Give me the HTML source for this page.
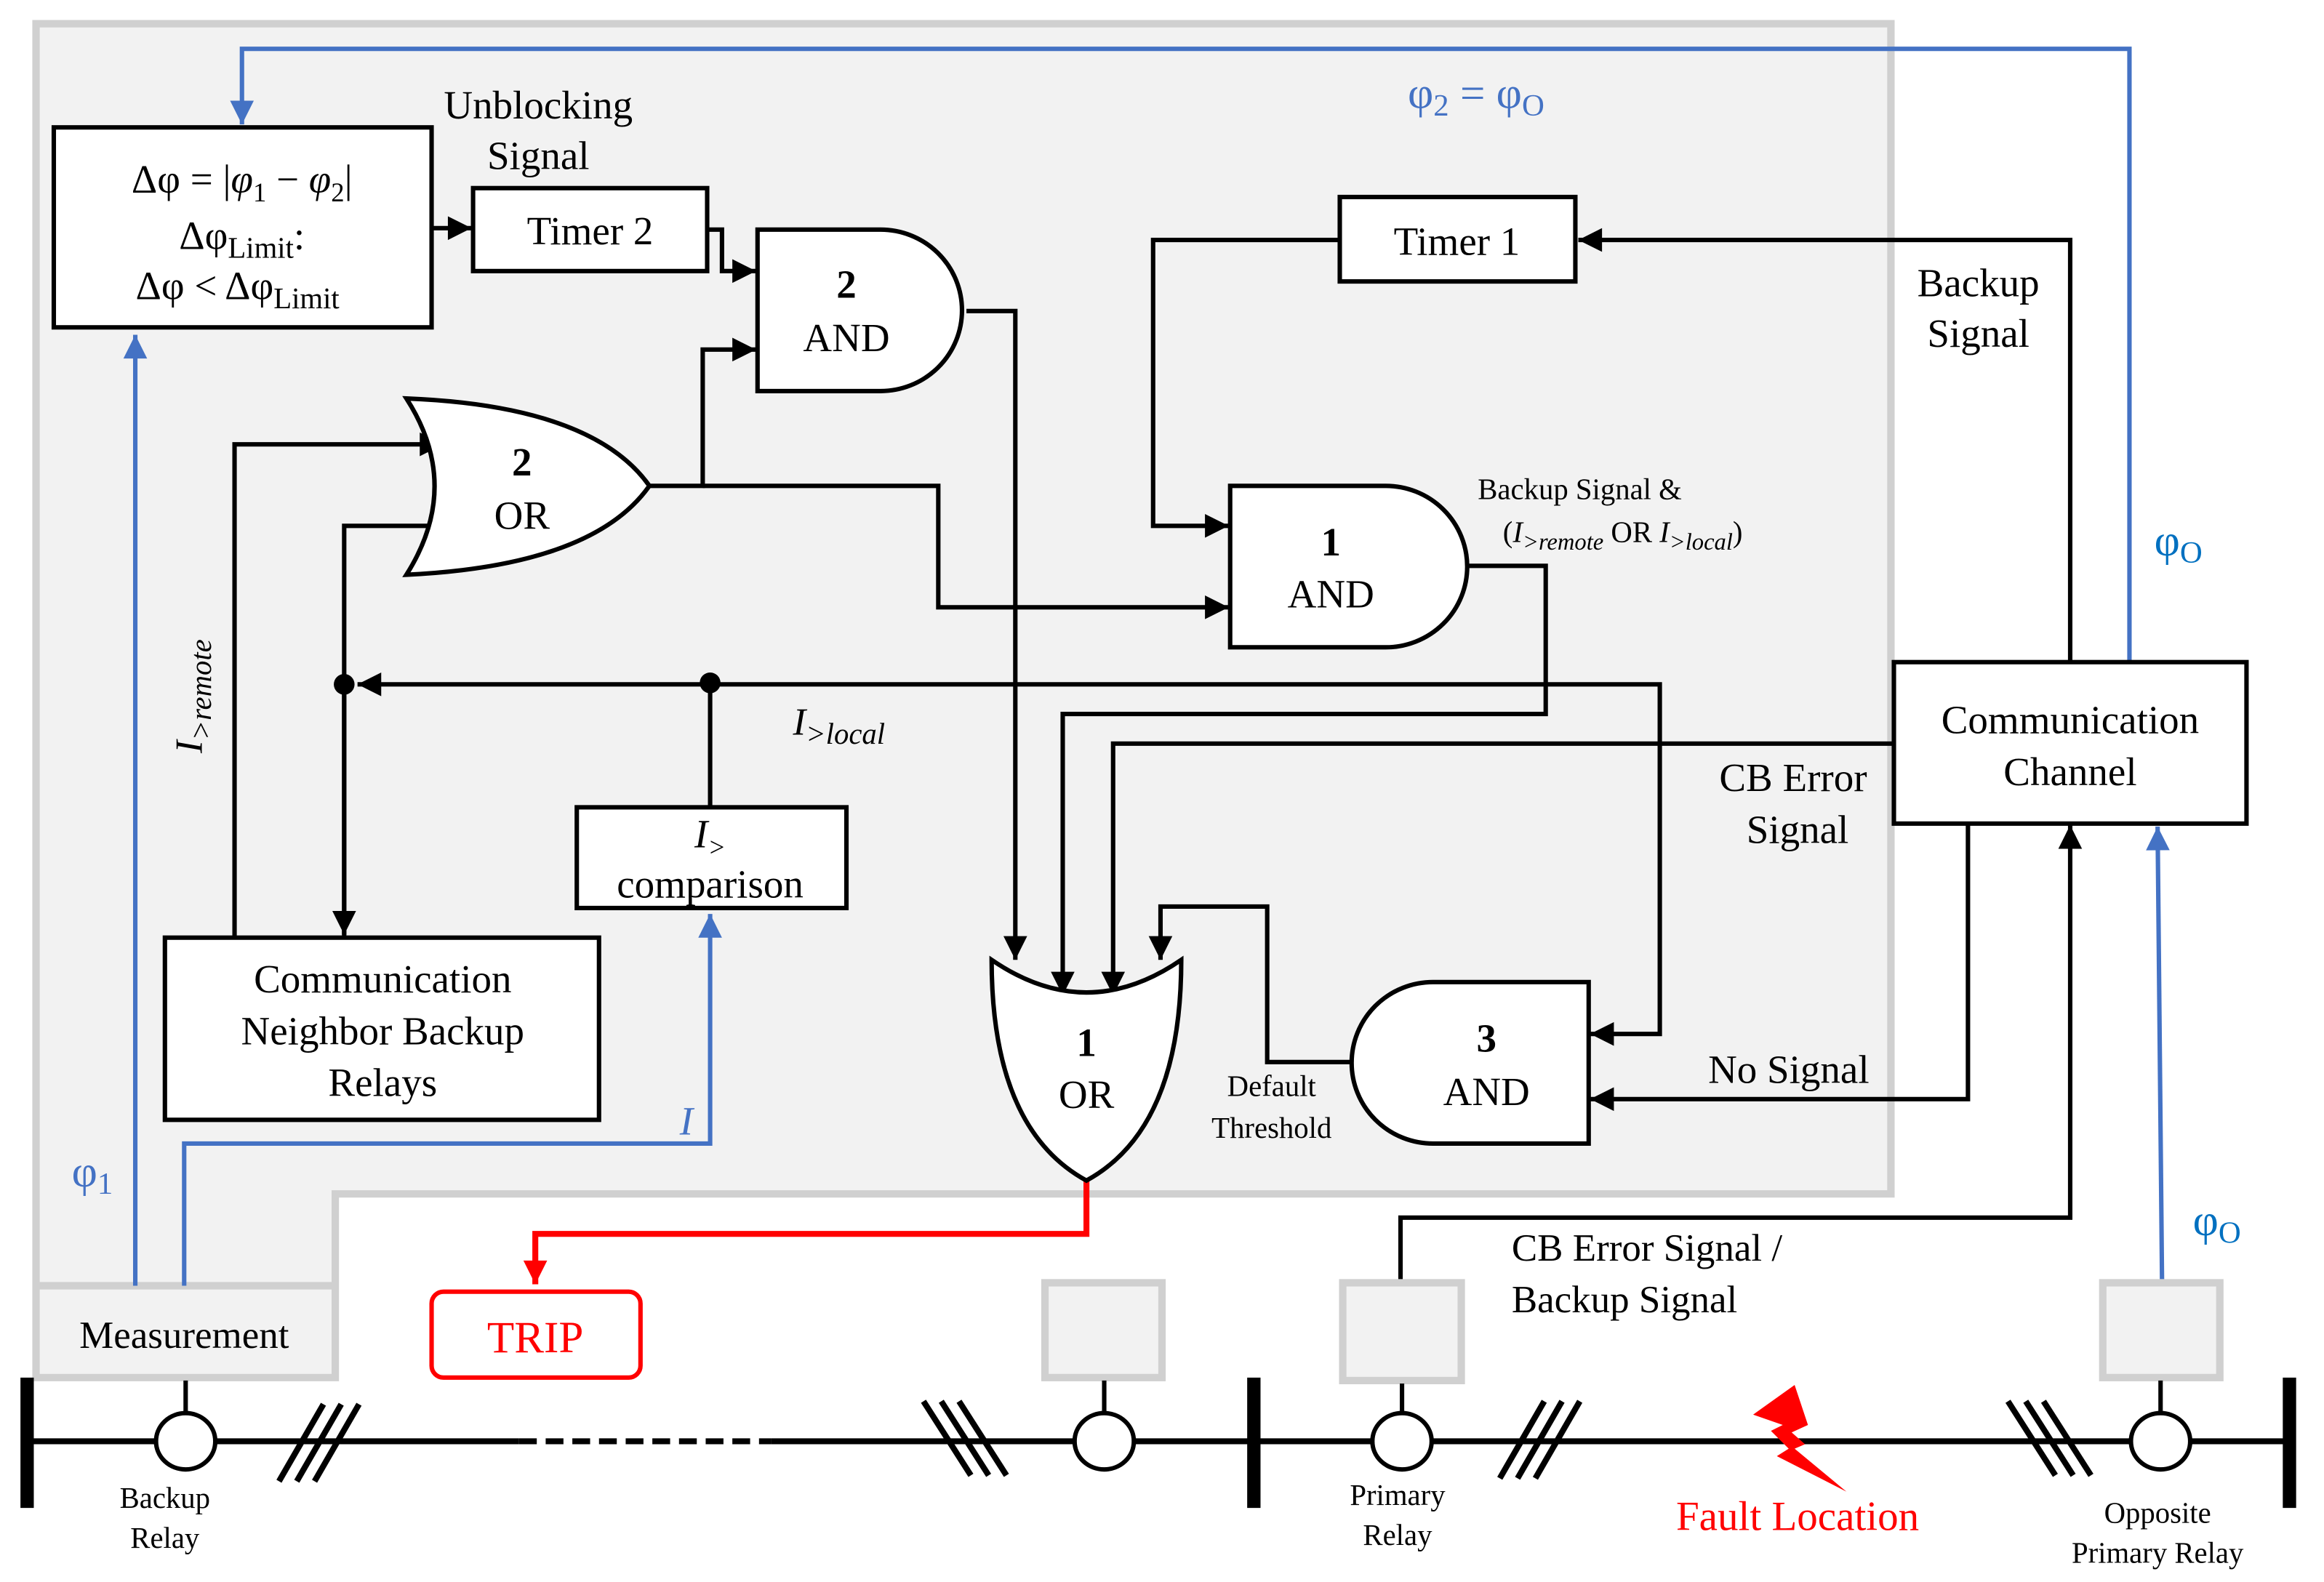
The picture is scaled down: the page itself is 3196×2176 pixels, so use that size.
<!DOCTYPE html>
<html><head><meta charset="utf-8"><style>
html,body{margin:0;padding:0;background:#fff;}
svg{display:block;}
svg, text{font-family:"Liberation Serif","DejaVu Serif","Times New Roman",serif;}
</style></head><body>
<svg width="3196" height="2176" viewBox="0 0 1568 1068" xmlns="http://www.w3.org/2000/svg" font-family="Liberation Serif, DejaVu Serif, serif">
<defs>
<marker id="a" markerUnits="userSpaceOnUse" markerWidth="20" markerHeight="20" viewBox="0 0 20 20" refX="18" refY="10" orient="auto"><path d="M2,2 L18,10 L2,18 Z" fill="#000"/></marker>
<marker id="b" markerUnits="userSpaceOnUse" markerWidth="20" markerHeight="20" viewBox="0 0 20 20" refX="18" refY="10" orient="auto"><path d="M2,2 L18,10 L2,18 Z" fill="#4472c4"/></marker>
<marker id="r" markerUnits="userSpaceOnUse" markerWidth="20" markerHeight="20" viewBox="0 0 20 20" refX="18" refY="10" orient="auto"><path d="M2,2 L18,10 L2,18 Z" fill="#ff0000"/></marker>
</defs>
<rect width="1568" height="1068" fill="#fff"/>
<path d="M24,16 H1276 V806 H226 V930 H24 Z" fill="#f2f2f2" stroke="#d0d0d0" stroke-width="5"/>
<line x1="24" y1="868" x2="226" y2="868" stroke="#d0d0d0" stroke-width="5"/>
<text x="124" y="910" font-size="26" text-anchor="middle">Measurement</text>

<g fill="none" stroke="#4472c4" stroke-width="3">
<path d="M1437,446 V33 H163 V84" marker-end="url(#b)"/>
<path d="M91,868 V226" marker-end="url(#b)"/>
<path d="M124,868 V772 H479 V617" marker-end="url(#b)"/>
<path d="M1459,866 L1456,558" marker-end="url(#b)"/>
</g>

<g fill="none" stroke="#000" stroke-width="3">
<path d="M291,154 H318" marker-end="url(#a)"/>
<path d="M477,155 H487 V183 H510" marker-end="url(#a)"/>
<path d="M652,210 H685 V648" marker-end="url(#a)"/>
<path d="M438,328 H474 V236 H510" marker-end="url(#a)"/>
<path d="M474,328 H633 V410 H829" marker-end="url(#a)"/>
<path d="M158,632 V300 H299" marker-end="url(#a)"/>
<path d="M232,632 V355 H299"/>
<path d="M232,462 V631" marker-end="url(#a)"/>
<path d="M479,462 H241" marker-end="url(#a)"/>
<path d="M479,545 V462 H1120 V698 H1073" marker-end="url(#a)"/>
<path d="M1397,446 V162 H1065" marker-end="url(#a)"/>
<path d="M904,162 H778 V355 H829" marker-end="url(#a)"/>
<path d="M990,382 H1043 V482 H717 V672" marker-end="url(#a)"/>
<path d="M1278,502 H751 V672" marker-end="url(#a)"/>
<path d="M1328,556 V742 H1073" marker-end="url(#a)"/>
<path d="M912,717 H855 V612 H783 V648" marker-end="url(#a)"/>
<path d="M945,866 V822 H1397 V557" marker-end="url(#a)"/>
</g>
<circle cx="232" cy="462" r="7"/>
<circle cx="479" cy="461" r="7"/>

<path d="M733,797 V833 H361 V867" fill="none" stroke="#ff0000" stroke-width="4" marker-end="url(#r)"/>

<g fill="#fff" stroke="#000" stroke-width="3">
<rect x="36" y="86" width="255" height="135"/>
<rect x="319" y="127" width="158" height="56"/>
<rect x="904" y="133" width="159" height="57"/>
<rect x="389" y="545" width="182" height="68"/>
<rect x="111" y="633" width="293" height="123"/>
<rect x="1278" y="447" width="238" height="109"/>
<path d="M511,155 H594 A55,54.5 0 0 1 594,264 H511 Z"/>
<path d="M830,328 H935 A55,54.5 0 0 1 935,437 H830 Z"/>
<path d="M1072,663 H967 A55,54.5 0 0 0 967,772 H1072 Z"/>
<path d="M274,269 Q312,328 274,388 Q400,382 438,328 Q400,274 274,269 Z"/>
<path d="M669,648 Q733,692 797,648 Q797,762 733,797 Q669,762 669,648 Z"/>
</g>
<rect x="291" y="872" width="141" height="58" rx="8" fill="#fff" stroke="#ff0000" stroke-width="3"/>
<text x="361" y="913" font-size="30" fill="#ff0000" text-anchor="middle">TRIP</text>

<g font-size="27" text-anchor="middle">
<text x="163" y="130">Δφ = |<tspan font-style="italic">φ</tspan><tspan font-size="18" dy="6">1</tspan><tspan dy="-6"> − </tspan><tspan font-style="italic">φ</tspan><tspan font-size="18" dy="6">2</tspan><tspan dy="-6">|</tspan></text>
<text x="163" y="168">Δφ<tspan font-size="20" dy="6">Limit</tspan><tspan dy="-6">:</tspan></text>
<text x="160" y="202">Δφ &lt; Δφ<tspan font-size="20" dy="6">Limit</tspan></text>
<text x="398" y="165">Timer 2</text>
<text x="983" y="172">Timer 1</text>
<text x="363" y="80">Unblocking</text>
<text x="363" y="114">Signal</text>
<text x="571" y="201" font-weight="bold">2</text>
<text x="571" y="237">AND</text>
<text x="352" y="321" font-weight="bold">2</text>
<text x="352" y="357">OR</text>
<text x="898" y="375" font-weight="bold">1</text>
<text x="898" y="410">AND</text>
<text x="1003" y="710" font-weight="bold">3</text>
<text x="1003" y="746">AND</text>
<text x="733" y="713" font-weight="bold">1</text>
<text x="733" y="748">OR</text>
<text x="479" y="572" font-style="italic">I<tspan font-size="18" dy="6">&gt;</tspan></text>
<text x="479" y="606">comparison</text>
<text x="258" y="670">Communication</text>
<text x="258" y="705">Neighbor Backup</text>
<text x="258" y="740">Relays</text>
<text x="1397" y="495">Communication</text>
<text x="1397" y="530">Channel</text>
<text x="1335" y="200">Backup</text>
<text x="1335" y="234">Signal</text>
<text x="1210" y="534">CB Error</text>
<text x="1213" y="569">Signal</text>
<text x="1207" y="731">No Signal</text>
<text x="996" y="73" fill="#4472c4" font-size="30">φ<tspan font-size="21" dy="5">2</tspan><tspan dy="-5"> = φ</tspan><tspan font-size="21" dy="5">O</tspan></text>
<text x="1470" y="375" fill="#0070c0" font-size="30">φ<tspan font-size="21" dy="5">O</tspan></text>
<text x="1496" y="834" fill="#0070c0" font-size="30">φ<tspan font-size="21" dy="5">O</tspan></text>
<text x="62" y="801" fill="#4472c4" font-size="30">φ<tspan font-size="21" dy="5">1</tspan></text>
<text x="463" y="766" fill="#4472c4" font-style="italic">I</text>
</g>
<g font-size="26">
<text x="1020" y="851">CB Error Signal /</text>
<text x="1020" y="886">Backup Signal</text>
</g>
<g font-size="20" text-anchor="middle">
<text x="858" y="740">Default</text>
<text x="858" y="768">Threshold</text>
<text x="1066" y="337">Backup Signal &amp;</text>
<text x="1095" y="366">(<tspan font-style="italic">I</tspan><tspan font-size="16" dy="5" font-style="italic">&gt;remote</tspan><tspan dy="-5"> OR </tspan><tspan font-style="italic">I</tspan><tspan font-size="16" dy="5" font-style="italic">&gt;local</tspan><tspan dy="-5">)</tspan></text>
<text x="111" y="1018">Backup</text>
<text x="111" y="1045">Relay</text>
<text x="943" y="1016">Primary</text>
<text x="943" y="1043">Relay</text>
<text x="1456" y="1028">Opposite</text>
<text x="1456" y="1055">Primary Relay</text>
</g>
<text x="566" y="496" font-size="26" font-style="italic" text-anchor="middle">I<tspan font-size="20" dy="6">&gt;local</tspan></text>
<text transform="translate(136,470) rotate(-90)" font-size="26" font-style="italic" text-anchor="middle">I<tspan font-size="20" dy="6">&gt;remote</tspan></text>
<text x="1213" y="1033" font-size="28" fill="#ff0000" text-anchor="middle">Fault Location</text>

<g fill="#f2f2f2" stroke="#d0d0d0" stroke-width="5">
<rect x="705" y="866" width="79" height="64"/>
<rect x="906" y="866" width="80" height="66"/>
<rect x="1419" y="866" width="79" height="64"/>
</g>
<g stroke="#000" fill="none">
<line x1="18" y1="973" x2="350" y2="973" stroke-width="4"/>
<line x1="350" y1="973" x2="520" y2="973" stroke-width="4" stroke-dasharray="12,6"/>
<line x1="520" y1="973" x2="1545" y2="973" stroke-width="4"/>
<line x1="18" y1="930" x2="18" y2="1018" stroke-width="9"/>
<line x1="846" y1="930" x2="846" y2="1018" stroke-width="9"/>
<line x1="1545" y1="930" x2="1545" y2="1018" stroke-width="9"/>
<g stroke-width="3">
<line x1="125" y1="932" x2="125" y2="953"/><ellipse cx="125" cy="973" rx="20" ry="19" fill="#fff"/>
<line x1="745" y1="932" x2="745" y2="953"/><ellipse cx="745" cy="973" rx="20" ry="19" fill="#fff"/>
<line x1="946" y1="934" x2="946" y2="953"/><ellipse cx="946" cy="973" rx="20" ry="19" fill="#fff"/>
<line x1="1458" y1="932" x2="1458" y2="953"/><ellipse cx="1458" cy="973" rx="20" ry="19" fill="#fff"/>
</g>
<g stroke-width="4">
<line x1="188" y1="1000" x2="218" y2="948"/><line x1="200" y1="1000" x2="230" y2="948"/><line x1="212" y1="1000" x2="242" y2="948"/>
<line x1="1012" y1="998" x2="1042" y2="946"/><line x1="1024" y1="998" x2="1054" y2="946"/><line x1="1036" y1="998" x2="1066" y2="946"/>
<line x1="623" y1="946" x2="655" y2="996"/><line x1="635" y1="946" x2="667" y2="996"/><line x1="647" y1="946" x2="679" y2="996"/>
<line x1="1355" y1="946" x2="1387" y2="996"/><line x1="1367" y1="946" x2="1399" y2="996"/><line x1="1379" y1="946" x2="1411" y2="996"/>
</g>
</g>
<path d="M1183,955 L1211,935 L1220,962 L1209,967 L1218,975 L1211,978 L1246,1007 L1199,983 L1207,978 L1195,966 L1203,962 Z" fill="#ff0000"/>
</svg>
</body></html>
